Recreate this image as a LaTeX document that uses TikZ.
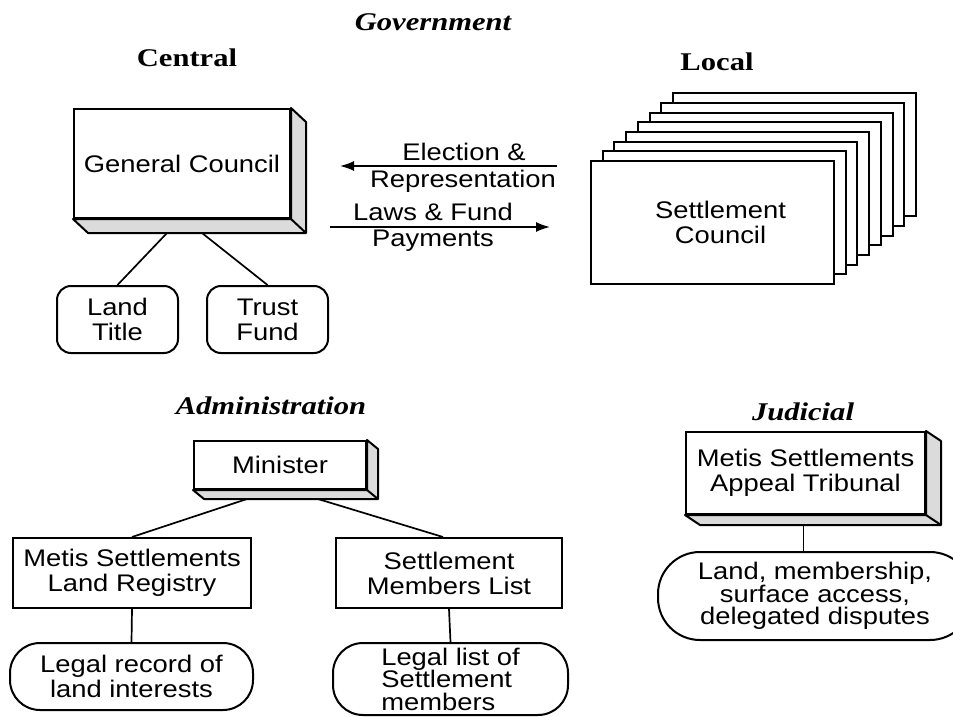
\documentclass[tikz,border=0pt]{standalone}
\usepackage{fontspec}
\usepackage{tikz}
\usetikzlibrary{arrows.meta}
\newfontfamily\boxfont[FakeStretch=1.14]{Liberation Sans}
\newfontfamily\headfont[FakeStretch=1.2]{Liberation Serif}

\begin{document}
\begin{tikzpicture}[x=1pt,y=-1pt,
	box/.style={draw, line width=2pt, fill=white, inner sep=0pt, align=center,
		font=\boxfont\fontsize{24}{25}\selectfont},
	pill/.style={box, rounded corners=#1},
	pill/.default=14pt,
	lbl/.style={inner sep=0pt, font=\boxfont\fontsize{24}{25}\selectfont},
	head/.style={inner sep=0pt, font=\headfont\bfseries\fontsize{25.5}{26}\selectfont},
	ital/.style={inner sep=0pt, font=\headfont\bfseries\itshape\fontsize{25.5}{26}\selectfont},
	link/.style={line width=1.7pt},
	flow/.style={line width=1.7pt, -{Latex[length=14pt,width=10pt]}}]
	\newcommand\boxside[3]{%
		\draw[line width=2pt, fill=black!14, line join=round]
			(#1.north east) -- ++(#2,#3) -- ([shift={(#2,#3)}]#1.south east)
			-- ([shift={(#2,#3)}]#1.south west) -- (#1.south west) -- (#1.south east) -- cycle;
		\draw[line width=2pt] (#1.south east) -- ++(#2,#3);
	}
	\useasboundingbox (0,0) rectangle (953,717);

	\node[ital] (govt) at (433,22) {Government};
	\node[head] (central) at (187,58) {Central};
	\node[head] (local) at (717,62) {Local};

	% central government
	\node[box, minimum width=216pt, minimum height=109pt] (gc) at (182,163.5) {General Council};
	\boxside{gc}{15}{14}
	\node[pill, minimum width=121pt, minimum height=67pt] (landtitle) at (117.5,319.5) {Land\\Title};
	\node[pill, minimum width=121pt, minimum height=67pt] (trustfund) at (267.5,319.5) {Trust\\Fund};
	\draw[link] ([shift={(-15,14)}]gc.south) -- (landtitle.north);
	\draw[link] ([shift={(20,14)}]gc.south) -- (trustfund.north);

	% local councils
	\foreach \k in {7,...,1}
		\node[box, minimum width=243pt, minimum height=123pt] (card\k) at ({712.5+11.7*\k},{222.5-9.7*\k}) {};
	\node[box, minimum width=243pt, minimum height=123pt] (sc) at (712.5,222.5)
		{\hspace*{16pt}Settlement\\\hspace*{16pt}Council};

	\coordinate (electail) at (557,166);
	\coordinate (elechead) at (340,166);
	\coordinate (lawstail) at (330,227);
	\coordinate (lawshead) at (550,227);
	\draw[flow] (electail) -- (elechead);
	\draw[flow] (lawstail) -- (lawshead);
	\node[lbl] (elec) at (464,152) {Election \&};
	\node[lbl] (repr) at (463,181) {Representation};
	\node[lbl] (laws) at (433,212) {Laws \& Fund};
	\node[lbl] (paym) at (433,241) {Payments};

	% administration
	\node[ital] (admin) at (271,406) {Administration};
	\node[box, minimum width=172pt, minimum height=48pt] (minister) at (280,465) {Minister};
	\boxside{minister}{11}{9}
	\node[box, minimum width=238pt, minimum height=70pt] (registry) at (132,573) {Metis Settlements\\Land Registry};
	\node[box, minimum width=226pt, minimum height=70pt] (members) at (449,573) {Settlement\\Members List};
	\draw[link] ([shift={(-33,9)}]minister.south) -- (registry.north);
	\draw[link] ([shift={(38,9)}]minister.south) -- ([xshift=-6pt]members.north);
	\node[pill=30pt, minimum width=243pt, minimum height=67pt] (record) at (131.5,676.5) {Legal record of\\land interests};
	\node[pill=30pt, minimum width=235pt, minimum height=72pt, align=left,
		font=\boxfont\fontsize{24}{22.5}\selectfont] (list) at (450.5,679) {Legal list of\\Settlement\\members};
	\draw[link] (registry.south) -- (record.north);
	\draw[link] (members.south) -- (list.north);

	% judicial
	\node[ital] (judic) at (803,412) {Judicial};
	\node[box, minimum width=239pt, minimum height=82pt] (tribunal) at (805.5,473) {Metis Settlements\\Appeal Tribunal};
	\boxside{tribunal}{15}{10}
	\node[pill=42pt, minimum width=314pt, minimum height=88pt,
		font=\boxfont\fontsize{24}{22.5}\selectfont] (disputes) at (815,596) {Land, membership,\\surface access,\\delegated disputes};
	\coordinate (tribfoot) at ([shift={(-2,10)}]tribunal.south);
	\draw[link] (tribfoot) -- (tribfoot |- disputes.north);
\end{tikzpicture}
\end{document}
